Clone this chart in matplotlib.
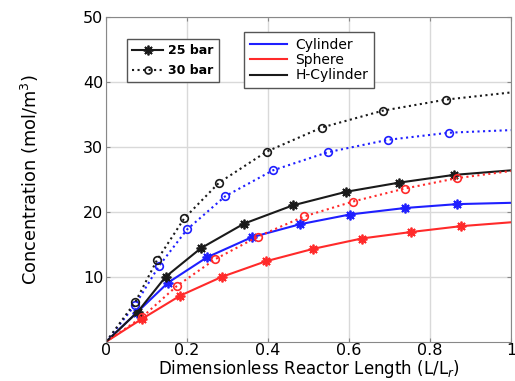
import numpy as np
import matplotlib.pyplot as plt
from matplotlib.lines import Line2D

# values
cyl25_x = [0, 0.076, 0.153, 0.249, 0.360, 0.479, 0.602, 0.738, 0.867, 1.0]
cyl25_y = [0, 4.5, 9.1, 13.0, 16.1, 18.1, 19.6, 20.6, 21.2, 21.4]
sph25_x = [0, 0.088, 0.183, 0.286, 0.395, 0.511, 0.631, 0.753, 0.876, 1.0]
sph25_y = [0, 3.5, 7.1, 10.0, 12.4, 14.3, 15.9, 16.9, 17.8, 18.4]
hcyl25_x = [0, 0.078, 0.147, 0.234, 0.341, 0.461, 0.593, 0.723, 0.859, 1.0]
hcyl25_y = [0, 4.6, 10.0, 14.4, 18.2, 21.0, 23.1, 24.5, 25.7, 26.4]

cyl30_x = [0, 0.072, 0.131, 0.200, 0.294, 0.412, 0.548, 0.696, 0.847, 1.0]
cyl30_y = [0, 5.7, 11.7, 17.3, 22.4, 26.4, 29.2, 31.1, 32.2, 32.6]
sph30_x = [0, 0.089, 0.175, 0.269, 0.375, 0.489, 0.610, 0.738, 0.867, 1.0]
sph30_y = [0, 3.8, 8.6, 12.7, 16.2, 19.3, 21.6, 23.6, 25.2, 26.3]
hcyl30_x = [0, 0.072, 0.126, 0.193, 0.279, 0.397, 0.533, 0.684, 0.840, 1.0]
hcyl30_y = [0, 6.1, 12.6, 19.0, 24.5, 29.3, 33.0, 35.6, 37.3, 38.4]

xticks = [0, 0.2, 0.4, 0.6, 0.8, 1]
xticklabels = ['0', '0.2', '0.4', '0.6', '0.8', '1']
yticks = [10, 20, 30, 40, 50]

blue = '#1f1fff'
red = '#ff2a2a'
black = '#1a1a1a'
star = (8, 2, 0)  # asterisk marker like matlab's '*'

fig = plt.figure(figsize=(5.15, 3.81), dpi=100)
ax = fig.add_axes([0.206, 0.103, 0.786, 0.852])

mk = slice(1, -1)
for xs, ys, c in [(cyl25_x, cyl25_y, blue), (sph25_x, sph25_y, red), (hcyl25_x, hcyl25_y, black)]:
    ax.plot(xs, ys, color=c, lw=1.5, marker=star, ms=7, mew=1.3, markevery=mk)
for xs, ys, c in [(cyl30_x, cyl30_y, blue), (sph30_x, sph30_y, red), (hcyl30_x, hcyl30_y, black)]:
    ax.plot(xs, ys, color=c, lw=1.5, ls=':', marker='o', ms=5.5, mfc='none', mew=1.2, markevery=mk)

ax.set_xlim(0, 1)
ax.set_ylim(0, 50)
ax.set_xticks(xticks)
ax.set_xticklabels(xticklabels)
ax.set_yticks(yticks)
ax.tick_params(direction='in', top=True, right=True, labelsize=11.5, length=3, color='#888888', pad=2)
ax.tick_params(axis='x', pad=1)
ax.grid(True, color='#d9d9d9', lw=1)
for s in ax.spines.values():
    s.set_color('#888888')
ax.set_xlabel('Dimensionless Reactor Length (L/L$_r$)', fontsize=12, labelpad=0)
ax.set_ylabel('Concentration (mol/m$^3$)', fontsize=12.8, labelpad=30)

h1 = [Line2D([], [], color=black, lw=1.5, marker=star, ms=7, mew=1.3),
      Line2D([], [], color=black, lw=1.5, ls=':', marker='o', ms=5, mfc='none', mew=1.2)]
leg1 = ax.legend(h1, ['25 bar', '30 bar'], loc='upper left', bbox_to_anchor=(0.052, 0.933),
                 borderaxespad=0, fancybox=False, edgecolor='#555555', framealpha=1, handlelength=2.5,
                 prop={'weight': 'bold', 'size': 9}, borderpad=0.4, labelspacing=0.6, handletextpad=0.4)
ax.add_artist(leg1)
h2 = [Line2D([], [], color=blue, lw=1.5), Line2D([], [], color=red, lw=1.5),
      Line2D([], [], color=black, lw=1.5)]
ax.legend(h2, ['Cylinder', 'Sphere', 'H-Cylinder'], loc='upper left', bbox_to_anchor=(0.341, 0.954),
          borderaxespad=0, fancybox=False, edgecolor='#555555', framealpha=1, handlelength=2.7,
          fontsize=10, borderpad=0.4, labelspacing=0.1, handletextpad=0.6)

fig.savefig('out.png', dpi=100)
